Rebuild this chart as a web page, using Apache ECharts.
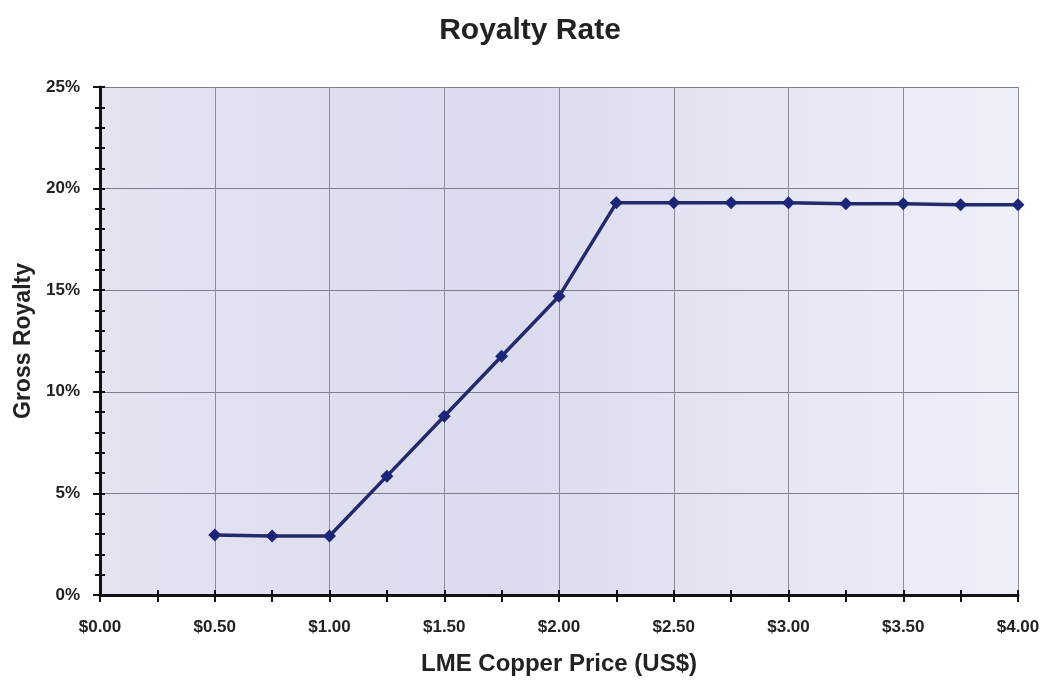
<!DOCTYPE html>
<html>
<head>
<meta charset="utf-8">
<script src="https://cdn.jsdelivr.net/npm/echarts@6/dist/echarts.min.js"></script>
<style>html,body{margin:0;padding:0;background:#fff}#c{width:1044px;height:681px}</style>
</head>
<body>
<div id="c"></div>
<script>
const titleText = 'Royalty Rate';
const xName = 'LME Copper Price (US$)';
const yName = 'Gross Royalty';
const prices = [0.5, 0.75, 1.0, 1.25, 1.5, 1.75, 2.0, 2.25, 2.5, 2.75, 3.0, 3.25, 3.5, 3.75, 4.0];
const royalty = [2.95, 2.9, 2.9, 5.85, 8.8, 11.75, 14.7, 19.3, 19.3, 19.3, 19.3, 19.25, 19.25, 19.2, 19.2];

const font = 'Liberation Sans, Arial, sans-serif';
const chart = echarts.init(document.getElementById('c'));
const data = prices.map((p, i) => [p, royalty[i]]);

const tickStyle = { color: '#111', width: 2 };
chart.setOption({
  animation: false,
  backgroundColor: '#fff',
  title: {
    text: titleText, left: 525, top: 11, textAlign: 'center',
    textStyle: { fontFamily: font, fontSize: 30, fontWeight: 'bold', color: '#222' }
  },
  grid: {
    left: 100, right: 26, top: 87, bottom: 86, show: true, borderWidth: 0,
    containLabel: false, outerBoundsMode: 'none',
    backgroundColor: new echarts.graphic.LinearGradient(0, 0, 1, 0, [
      { offset: 0, color: '#e3e3f2' },
      { offset: 0.45, color: '#dcdbee' },
      { offset: 1, color: '#eef0f8' }
    ])
  },
  xAxis: [{
    type: 'value', min: 0, max: 4, interval: 0.5, position: 'bottom',
    name: xName, nameLocation: 'middle', nameGap: 57,
    nameTextStyle: { fontFamily: font, fontSize: 24, fontWeight: 'bold', color: '#222' },
    axisLine: { show: true, lineStyle: { color: '#111', width: 3 } },
    axisTick: { show: true, length: 7, lineStyle: tickStyle },
    minorTick: { show: true, splitNumber: 2, length: 7, lineStyle: tickStyle },
    axisLabel: { margin: 24, fontFamily: font, fontSize: 17, fontWeight: 'bold', color: '#222',
      formatter: v => '$' + v.toFixed(2) },
    splitLine: { show: true, lineStyle: { color: '#8d8c9c', width: 1 } }
  }, {
    type: 'value', min: 0, max: 4, interval: 0.5, position: 'bottom',
    axisLine: { show: false }, axisLabel: { show: false }, splitLine: { show: false },
    axisTick: { show: true, inside: true, length: 5, lineStyle: tickStyle },
    minorTick: { show: true, splitNumber: 2, length: 5, lineStyle: tickStyle }
  }],
  yAxis: [{
    type: 'value', min: 0, max: 25, interval: 5, position: 'left',
    name: yName, nameLocation: 'middle', nameGap: 65, nameRotate: 90,
    nameTextStyle: { fontFamily: font, fontSize: 23, fontWeight: 'bold', color: '#222' },
    axisLine: { show: true, lineStyle: { color: '#111', width: 3 } },
    axisTick: { show: true, length: 7, lineStyle: tickStyle },
    minorTick: { show: true, splitNumber: 5, length: 5, lineStyle: tickStyle },
    axisLabel: { margin: 20, fontFamily: font, fontSize: 17, fontWeight: 'bold', color: '#222',
      formatter: v => v + '%' },
    splitLine: { show: true, lineStyle: { color: '#7e7d8e', width: 1 } }
  }, {
    type: 'value', min: 0, max: 25, interval: 5, position: 'left',
    axisLine: { show: false }, axisLabel: { show: false }, splitLine: { show: false },
    axisTick: { show: true, inside: true, length: 5, lineStyle: tickStyle },
    minorTick: { show: true, splitNumber: 5, length: 5, lineStyle: tickStyle }
  }],
  series: [{
    type: 'line', data: data, xAxisIndex: 0, yAxisIndex: 0,
    symbol: 'diamond', symbolSize: 13,
    lineStyle: { color: '#232a6c', width: 3.5 },
    itemStyle: { color: '#1c2678' }
  }]
});
</script>
</body>
</html>
